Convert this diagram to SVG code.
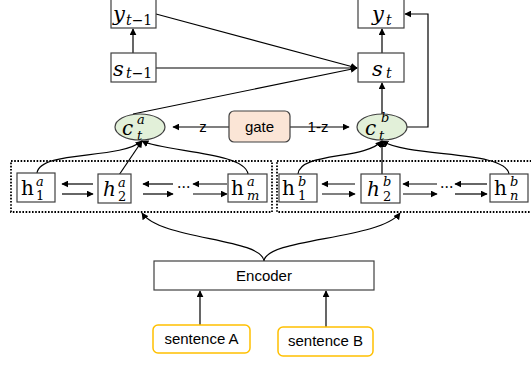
<svg xmlns="http://www.w3.org/2000/svg" width="531" height="365" viewBox="0 0 531 365">
<defs>
<marker id="ah" viewBox="0 0 10 10" refX="9" refY="5" markerWidth="7" markerHeight="7" markerUnits="userSpaceOnUse" orient="auto"><path d="M0,0 L10,5 L0,10 z" fill="#000"/></marker>
</defs>
<style>
.box{fill:#fff;stroke:#404040;stroke-width:1.2}
.dot{fill:none;stroke:#000;stroke-width:1.8;stroke-dasharray:1.6 1.6}
.ln{fill:none;stroke:#000;stroke-width:1.2}
.ar{fill:none;stroke:#000;stroke-width:1.2;marker-end:url(#ah)}
.m{font-family:"DejaVu Serif",serif;font-style:italic;fill:#000}
.r{font-family:"DejaVu Serif",serif;fill:#000}
.s{font-family:"Liberation Sans",Arial,sans-serif;font-size:15px;fill:#000}
</style>
<rect width="531" height="365" fill="#fff"/>
<g id="connectors">
<line class="ar" x1="133" y1="53" x2="133" y2="29"/>
<line class="ar" x1="382" y1="53" x2="382" y2="29"/>
<line class="ar" x1="156" y1="14" x2="357" y2="68"/>
<line class="ar" x1="156" y1="68" x2="357" y2="68"/>
<line class="ar" x1="133" y1="114" x2="357" y2="68"/>
<line class="ar" x1="382" y1="114" x2="382" y2="83"/>
<polyline class="ar" points="407,127 428,127 428,14 405,14"/>
<line class="ar" x1="229" y1="127" x2="173" y2="127"/>
<line class="ar" x1="290" y1="127" x2="349" y2="127"/>
<path class="ar" d="M37,173 C40,150 120,160 142,141"/>
<path class="ar" d="M119,175 L142,141"/>
<path class="ar" d="M248,174 C245,152 165,152 142,141"/>
<path class="ar" d="M298,174 C300,152 365,160 382,141"/>
<line class="ar" x1="382" y1="174" x2="382" y2="141"/>
<path class="ar" d="M509,174 C505,150 410,158 382,141"/>
<line class="ar" x1="93" y1="184" x2="62" y2="184"/>
<line class="ar" x1="62" y1="194" x2="93" y2="194"/>
<line class="ar" x1="173" y1="184" x2="143" y2="184"/>
<line class="ar" x1="143" y1="194" x2="173" y2="194"/>
<line class="ar" x1="227" y1="184" x2="193" y2="184"/>
<line class="ar" x1="193" y1="194" x2="227" y2="194"/>
<line class="ar" x1="355" y1="184" x2="322" y2="184"/>
<line class="ar" x1="322" y1="194" x2="355" y2="194"/>
<line class="ar" x1="437" y1="184" x2="403" y2="184"/>
<line class="ar" x1="403" y1="194" x2="437" y2="194"/>
<line class="ar" x1="487" y1="184" x2="455" y2="184"/>
<line class="ar" x1="455" y1="194" x2="487" y2="194"/>
<path class="ar" d="M264,261 C262,238 160,240 142,213"/>
<path class="ar" d="M264,261 C266,238 380,240 400,213"/>
<line class="ar" x1="200" y1="325" x2="200" y2="291"/>
<line class="ar" x1="326" y1="327" x2="326" y2="291"/>
</g>
<g id="labels">
<text class="s" x="203" y="132" text-anchor="middle">z</text>
<text class="s" x="318" y="132" text-anchor="middle">1-z</text>
<text class="r" x="177" y="192" font-size="14">···</text>
<text class="r" x="440" y="192" font-size="14">···</text>
</g>
<g id="group-a"><rect class="dot" x="11" y="161" width="261" height="51"/></g>
<g id="group-b"><rect class="dot" x="277" y="161" width="256" height="51"/></g>
<g id="y_prev"><rect class="box" x="111" y="-1" width="45" height="29"/><text class="m" x="113" y="21" font-size="21">y</text><text class="m" x="126" y="25" font-size="14">t<tspan font-style="normal">−1</tspan></text></g>
<g id="s_prev"><rect class="box" x="111" y="53" width="45" height="29"/><text class="m" x="113" y="76" font-size="21">s</text><text class="m" x="126" y="78" font-size="14">t<tspan font-style="normal">−1</tspan></text></g>
<g id="y_t"><rect class="box" x="358" y="-1" width="46" height="29"/><text class="m" x="372" y="21" font-size="21">y</text><text class="m" x="386" y="25" font-size="14">t</text></g>
<g id="s_t"><rect class="box" x="358" y="53" width="46" height="29"/><text class="m" x="372" y="76" font-size="21">s</text><text class="m" x="386" y="78" font-size="14">t</text></g>
<g id="c_a"><ellipse cx="140" cy="127" rx="25" ry="13" fill="#e2f0d9" stroke="#404040" stroke-width="1.2"/><text class="m" x="122" y="135" font-size="20">c</text><text class="m" x="137" y="124" font-size="13">a</text><text class="m" x="137" y="140" font-size="13">t</text></g>
<g id="gate"><rect x="229" y="111" width="61" height="31" rx="5" fill="#fbe5d6" stroke="#404040" stroke-width="1.2"/><text class="s" x="259.5" y="132" text-anchor="middle">gate</text></g>
<g id="c_b"><ellipse cx="382" cy="127" rx="25" ry="13" fill="#e2f0d9" stroke="#404040" stroke-width="1.2"/><text class="m" x="365" y="135" font-size="20">c</text><text class="m" x="381" y="122" font-size="13">b</text><text class="m" x="379" y="140" font-size="13">t</text></g>
<g id="h1a"><rect class="box" x="17" y="173" width="38" height="29"/><text class="r" x="21" y="195" font-size="20">h</text><text class="m" x="36" y="186" font-size="13">a</text><text class="r" x="36" y="200" font-size="13">1</text></g>
<g id="h2a"><rect class="box" x="98" y="174" width="33" height="29"/><text class="m" x="103" y="196" font-size="20">h</text><text class="m" x="118" y="187" font-size="13">a</text><text class="r" x="118" y="201" font-size="13">2</text></g>
<g id="hma"><rect class="box" x="228" y="174" width="39" height="28"/><text class="r" x="231" y="195" font-size="20">h</text><text class="m" x="247" y="186" font-size="13">a</text><text class="m" x="247" y="200" font-size="13">m</text></g>
<g id="h1b"><rect class="box" x="279" y="174" width="38" height="28"/><text class="r" x="282" y="195" font-size="20">h</text><text class="m" x="298" y="186" font-size="13">b</text><text class="r" x="298" y="200" font-size="13">1</text></g>
<g id="h2b"><rect class="box" x="361" y="174" width="39" height="29"/><text class="m" x="367" y="196" font-size="20">h</text><text class="m" x="383" y="186" font-size="13">b</text><text class="r" x="383" y="201" font-size="13">2</text></g>
<g id="hnb"><rect class="box" x="490" y="174" width="38" height="28"/><text class="r" x="494" y="195" font-size="20">h</text><text class="m" x="510" y="186" font-size="13">b</text><text class="m" x="510" y="200" font-size="13">n</text></g>
<g id="encoder"><rect x="154" y="261" width="220" height="29" fill="#fff" stroke="#404040" stroke-width="1.2"/><text class="s" x="264" y="281" text-anchor="middle">Encoder</text></g>
<g id="sentA"><rect x="153" y="325" width="97" height="28" rx="5" fill="#fff" stroke="#ffc000" stroke-width="1.5"/><text class="s" x="201.5" y="344" text-anchor="middle">sentence A</text></g>
<g id="sentB"><rect x="278" y="327" width="95" height="29" rx="5" fill="#fff" stroke="#ffc000" stroke-width="1.5"/><text class="s" x="325.5" y="346" text-anchor="middle">sentence B</text></g>
</svg>
